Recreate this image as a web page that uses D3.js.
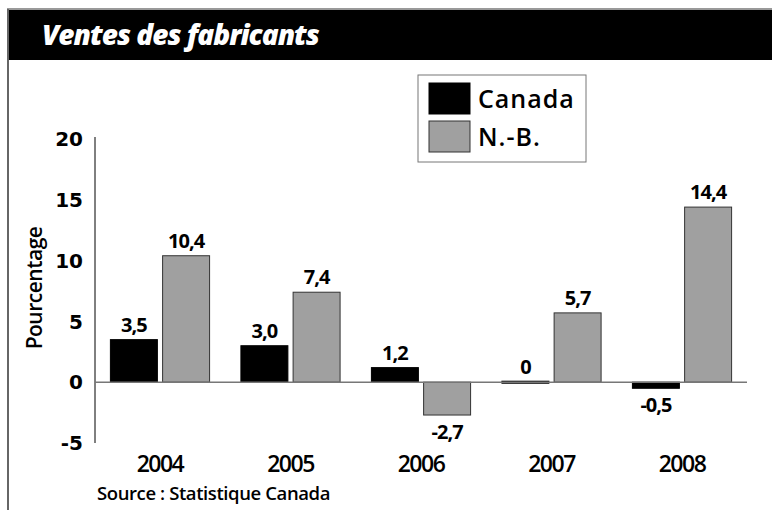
<!DOCTYPE html>
<html>
<head>
<meta charset="utf-8">
<script src="https://cdn.jsdelivr.net/npm/d3@7"></script>
<style>
  body { margin: 0; background: #fff; }
  svg { display: block; font-family: "Open Sans", sans-serif; }
</style>
</head>
<body>
<svg id="chart" width="772" height="510"></svg>
<script>
const years = ["2004", "2005", "2006", "2007", "2008"];
const series = ["Canada", "N.-B."];
const canada = [3.5, 3.0, 1.2, 0, -0.5];
const nb = [10.4, 7.4, -2.7, 5.7, 14.4];
const yTicks = [-5, 0, 5, 10, 15, 20];

const colors = { "Canada": "#000", "N.-B.": "#a0a0a0" };
const fmt = v => (v === 0 ? "0" : d3.format(".1f")(v).replace(".", ",").replace("−", "-"));

const svg = d3.select("#chart");

// cadre et bandeau du titre
svg.append("line")
  .attr("x1", 7).attr("x2", 772).attr("y1", 9).attr("y2", 9)
  .attr("stroke", "#777").attr("stroke-width", 1.5);
svg.append("rect")
  .attr("x", 7).attr("y", 10).attr("width", 765).attr("height", 50)
  .attr("fill", "#000");
svg.append("line")
  .attr("x1", 8).attr("x2", 8).attr("y1", 9).attr("y2", 510)
  .attr("stroke", "#666").attr("stroke-width", 2);
svg.append("text")
  .attr("x", 42).attr("y", 45)
  .attr("fill", "#fff")
  .style("font-size", "28px")
  .style("font-weight", 800)
  .style("font-style", "italic")
  .style("letter-spacing", "-1px")
  .text("Ventes des fabricants");

const x0 = d3.scaleBand().domain(years).range([95, 747]).paddingInner(0.24).paddingOuter(0.118);
const x1 = d3.scaleBand().domain(series).range([0, x0.bandwidth()]).paddingInner(0.1);
const y = d3.scaleLinear().domain([-5, 20]).range([443, 139]);

// axe vertical
svg.append("line")
  .attr("x1", 95).attr("x2", 95).attr("y1", y(20) - 2).attr("y2", y(-5))
  .attr("stroke", "#000").attr("stroke-width", 1);

svg.selectAll(".ytick")
  .data(yTicks)
  .enter().append("text")
  .attr("class", "ytick")
  .attr("x", 83)
  .attr("y", d => y(d))
  .attr("dy", "0.36em")
  .attr("text-anchor", "end")
  .style("font-size", "20px")
  .style("font-weight", 700)
  .style("font-family", "'DejaVu Sans', sans-serif")
  .text(d => d);

svg.append("text")
  .attr("transform", "translate(42,288) rotate(-90)")
  .attr("text-anchor", "middle")
  .style("font-size", "21px")
  .style("font-weight", 600)
  .style("letter-spacing", "-0.5px")
  .text("Pourcentage");

const rows = years.map((yr, i) => ({ year: yr, values: [
  { key: "Canada", value: canada[i] },
  { key: "N.-B.", value: nb[i] }
] }));

const groups = svg.selectAll(".grp")
  .data(rows)
  .enter().append("g")
  .attr("class", "grp")
  .attr("transform", d => "translate(" + x0(d.year) + ",0)");

groups.selectAll("rect")
  .data(d => d.values)
  .enter().append("rect")
  .attr("x", d => x1(d.key))
  .attr("width", x1.bandwidth())
  .attr("y", d => Math.min(y(d.value), y(0)) - (d.value === 0 ? 1 : 0))
  .attr("height", d => Math.max(Math.abs(y(d.value) - y(0)), 2))
  .attr("fill", d => colors[d.key])
  .attr("stroke", d => d.key === "Canada" ? "#000" : "#333")
  .attr("stroke-width", 1);

// ligne du zéro
svg.append("line")
  .attr("x1", 95).attr("x2", 747).attr("y1", y(0)).attr("y2", y(0))
  .attr("stroke", "#777").attr("stroke-width", 1.5);

groups.selectAll(".val")
  .data(d => d.values)
  .enter().append("text")
  .attr("class", "val")
  .attr("x", d => x1(d.key) + x1.bandwidth() / 2)
  .attr("y", d => d.value < 0 ? y(d.value) + 24 : y(d.value) - 8)
  .attr("text-anchor", "middle")
  .style("font-size", "20px")
  .style("font-weight", 700)
  .style("letter-spacing", "-1px")
  .text(d => fmt(d.value));

svg.selectAll(".year")
  .data(years)
  .enter().append("text")
  .attr("class", "year")
  .attr("x", d => x0(d) + x0.bandwidth() / 2)
  .attr("y", 472)
  .attr("text-anchor", "middle")
  .style("font-size", "23px")
  .style("font-weight", 600)
  .style("letter-spacing", "-1.5px")
  .text(d => d);

svg.append("text")
  .attr("x", 97).attr("y", 500)
  .style("font-size", "18.5px")
  .style("font-weight", 600)
  .style("letter-spacing", "-0.4px")
  .text("Source : Statistique Canada");

// légende
const legend = svg.append("g").attr("transform", "translate(418,75)");
legend.append("rect")
  .attr("width", 168).attr("height", 87)
  .attr("fill", "#fff").attr("stroke", "#777").attr("stroke-width", 1);
series.forEach((s, i) => {
  legend.append("rect")
    .attr("x", 11).attr("y", 8 + i * 38)
    .attr("width", 41).attr("height", 31)
    .attr("fill", colors[s])
    .attr("stroke", s === "Canada" ? "#000" : "#333");
  legend.append("text")
    .attr("x", 60).attr("y", 8 + i * 38 + 25)
    .style("font-size", "25px")
    .style("font-weight", 600)
    .style("letter-spacing", "1px")
    .text(s);
});
</script>
</body>
</html>
